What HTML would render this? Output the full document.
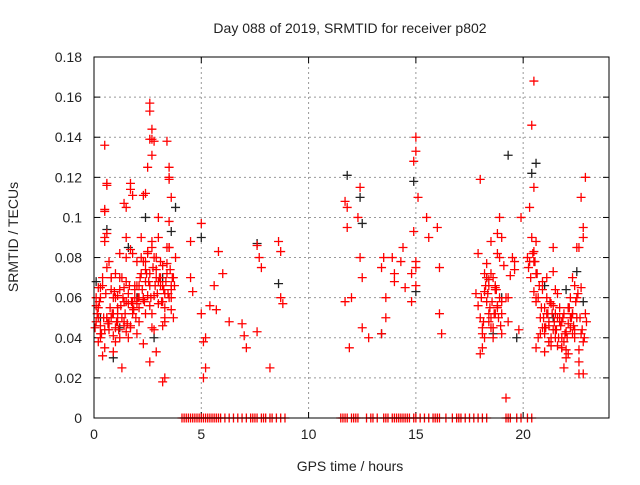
<!DOCTYPE html>
<html><head><meta charset="utf-8"><style>
body{margin:0;background:#fff;}
svg text{font-family:"Liberation Sans",sans-serif;font-size:14px;fill:#222;}
</style></head><body>
<svg id="chart" width="640" height="480" viewBox="0 0 640 480" xmlns="http://www.w3.org/2000/svg">
<rect width="640" height="480" fill="#fff"/>
<text x="350" y="33" text-anchor="middle">Day 088 of 2019, SRMTID for receiver p802</text>
<g id="grid"></g>
<g id="ticks"></g>
<g id="marks"></g>
<rect x="94" y="57" width="515" height="361" fill="none" stroke="#000" stroke-width="1"/>
<text x="350" y="471" text-anchor="middle">GPS time / hours</text>
<text transform="translate(18,237) rotate(-90)" text-anchor="middle">SRMTID / TECUs</text>
</svg>
<script>
const xTicks=[0,5,10,15,20];
const yTicks=[0,0.02,0.04,0.06,0.08,0.1,0.12,0.14,0.16,0.18];
const yTickLabels=["0","0.02","0.04","0.06","0.08","0.1","0.12","0.14","0.16","0.18"];
const redX=[0.1,0.2,0.3,0.3,0.4,0.5,0.5,0.6,0.6,0.7,0.8,0.9,1.0,1.0,1.1,1.2,1.3,1.4,1.5,1.5,1.6,1.7,1.8,1.9,2.0,2.1,2.2,2.3,2.4,2.5,2.5,2.6,2.6,2.7,2.8,2.9,3.0,3.1,3.2,3.3,3.4,3.5,3.5,3.6,3.7,3.8,0.2,0.4,0.6,0.8,1.0,1.2,1.4,1.6,1.8,2.0,2.2,2.4,2.6,2.8,3.0,3.2,3.4,3.6,0.1,0.3,0.5,0.7,0.9,1.1,1.3,1.5,1.7,1.9,2.1,2.3,2.5,2.7,2.9,3.1,3.3,3.5,3.7,0.2,0.5,0.8,1.1,1.4,1.7,2.0,2.3,2.6,2.9,3.2,3.5,0.3,0.6,0.9,1.2,1.5,1.8,2.1,2.4,2.7,3.0,3.3,3.6,2.6,2.6,2.7,2.7,2.7,2.8,3.5,3.5,3.4,3.6,0.5,0.5,0.6,1.4,1.5,1.7,1.8,2.3,2.4,3.2,3.3,
4.5,4.5,4.6,5.0,5.1,5.2,5.2,5.4,5.6,5.7,5.8,6.3,6.9,7.0,7.1,7.6,7.7,7.8,8.2,8.6,8.7,8.8,5.0,5.1,6.0,7.6,8.7,
11.7,11.8,11.8,11.9,12.0,12.3,12.4,12.5,12.5,12.8,13.4,13.5,13.6,13.6,13.9,14.0,14.3,14.4,14.5,14.8,14.9,14.9,15.0,15.0,15.1,15.5,15.6,16.0,16.1,16.1,16.2,11.7,12.4,13.4,14.0,14.8,15.0,15.0,15.0,
17.8,17.9,18.0,18.0,18.1,18.2,18.3,18.4,18.5,18.5,18.6,18.7,18.8,18.9,18.9,19.0,19.2,19.3,19.5,19.6,19.8,17.9,18.1,18.3,18.4,18.6,18.7,18.8,19.0,19.1,19.3,19.4,19.6,18.2,18.5,18.7,19.0,19.2,18.0,18.4,18.8,19.9,
20.2,20.3,20.4,20.5,20.5,20.6,20.7,20.8,20.9,21.0,21.1,21.2,21.3,21.4,21.5,21.6,21.7,21.8,21.9,22.0,22.1,22.2,22.3,22.4,22.5,22.6,22.7,22.8,22.9,20.3,20.5,20.7,20.9,21.1,21.3,21.5,21.7,21.9,22.1,22.3,22.5,22.7,20.4,20.6,20.8,21.0,21.2,21.4,21.6,21.8,22.0,22.2,22.4,22.6,22.8,20.5,20.5,20.6,20.6,20.6,21.2,21.4,21.8,22.1,22.3,22.6,22.8,21.0,21.5,22.0,22.5];
const redY=[0.048,0.055,0.046,0.065,0.031,0.088,0.104,0.092,0.117,0.044,0.05,0.06,0.045,0.072,0.055,0.04,0.025,0.058,0.043,0.08,0.062,0.114,0.055,0.066,0.078,0.048,0.072,0.06,0.052,0.083,0.125,0.066,0.139,0.052,0.061,0.074,0.09,0.066,0.058,0.05,0.077,0.12,0.06,0.066,0.07,0.08,0.038,0.066,0.05,0.064,0.038,0.07,0.048,0.057,0.082,0.042,0.09,0.068,0.056,0.044,0.057,0.046,0.072,0.054,0.056,0.042,0.035,0.078,0.052,0.061,0.07,0.09,0.045,0.064,0.066,0.059,0.061,0.088,0.07,0.078,0.062,0.098,0.05,0.05,0.09,0.07,0.048,0.065,0.084,0.057,0.037,0.028,0.033,0.066,0.085,0.06,0.05,0.033,0.082,0.068,0.058,0.06,0.074,0.045,0.1,0.048,0.064,0.157,0.153,0.144,0.139,0.131,0.138,0.119,0.125,0.138,0.11,0.136,0.103,0.116,0.107,0.105,0.117,0.111,0.111,0.112,0.018,0.02,
0.088,0.07,0.063,0.097,0.02,0.04,0.025,0.056,0.066,0.054,0.083,0.048,0.047,0.041,0.035,0.086,0.08,0.075,0.025,0.088,0.083,0.057,0.052,0.038,0.072,0.043,0.06,
0.108,0.105,0.095,0.035,0.06,0.1,0.115,0.07,0.045,0.04,0.075,0.08,0.06,0.05,0.08,0.072,0.078,0.085,0.065,0.072,0.093,0.128,0.14,0.133,0.11,0.1,0.09,0.095,0.075,0.052,0.042,0.058,0.08,0.042,0.068,0.058,0.066,0.078,
0.075,0.062,0.082,0.05,0.119,0.045,0.072,0.058,0.066,0.088,0.045,0.07,0.065,0.056,0.08,0.1,0.09,0.06,0.048,0.08,0.074,0.044,0.056,0.035,0.077,0.069,0.04,0.064,0.082,0.058,0.076,0.06,0.071,0.078,0.063,0.05,0.052,0.042,0.01,0.032,0.048,
0.092,0.1,0.08,0.105,0.146,0.168,0.115,0.072,0.06,0.05,0.045,0.033,0.07,0.048,0.04,0.056,0.044,0.062,0.05,0.035,0.025,0.043,0.055,0.06,0.042,0.066,0.05,0.028,0.042,0.09,0.12,0.078,0.063,0.04,0.068,0.052,0.036,0.064,0.048,0.038,0.055,0.07,0.085,0.11,0.09,0.058,0.042,0.055,0.046,0.073,0.05,0.035,0.03,0.045,0.04,0.085,0.095,0.078,0.083,0.088,0.035,0.06,0.038,0.085,0.048,0.032,0.052,0.022,0.022,0.045,0.04];
const extraX=[0.05,0.15,0.25,0.35,0.45,0.55,0.65,0.75,0.85,0.95,1.05,1.15,1.25,1.35,1.45,1.55,1.65,1.75,1.85,1.95,2.05,2.15,2.25,2.35,2.45,2.55,2.65,2.75,2.85,2.95,3.05,3.15,3.25,3.35,3.45,3.55,3.65,3.75,0.1,0.3,0.5,0.7,0.9,1.1,1.3,1.5,1.7,1.9,2.1,2.3,2.5,2.7,2.9,3.1,3.3,3.5,0.2,0.4,0.6,0.8,1.0,1.2,1.4,1.6,1.8,2.0,2.2,2.4,2.6,2.8,3.0,3.2,3.4,3.6,
18.05,18.15,18.25,18.35,18.45,18.55,18.65,18.75,18.85,18.95,18.1,18.3,18.5,18.7,18.9,18.2,18.4,18.6,18.8,19.0,
20.25,20.35,20.45,20.55,20.65,20.75,20.85,20.95,21.05,21.15,21.25,21.35,21.45,21.55,21.65,21.75,21.85,21.95,22.05,22.15,22.25,22.35,22.45,22.55,22.65,22.75,22.85,22.95,20.9,21.1,21.3,21.5,21.7,21.9,22.1,22.3,22.5,22.7,22.9,21.0,21.2,21.4,21.6,21.8,22.0,22.2,22.4,22.6,22.8];
const extraY=[0.045,0.052,0.058,0.042,0.05,0.062,0.047,0.055,0.052,0.063,0.048,0.044,0.056,0.06,0.052,0.047,0.066,0.058,0.054,0.05,0.06,0.07,0.064,0.058,0.072,0.068,0.06,0.075,0.066,0.062,0.07,0.058,0.064,0.068,0.062,0.074,0.07,0.066,0.06,0.04,0.044,0.048,0.041,0.052,0.05,0.058,0.046,0.06,0.055,0.078,0.082,0.085,0.08,0.07,0.055,0.085,0.065,0.07,0.075,0.07,0.06,0.064,0.046,0.04,0.052,0.066,0.08,0.078,0.072,0.08,0.068,0.076,0.085,0.06,
0.06,0.048,0.066,0.062,0.055,0.058,0.052,0.064,0.05,0.046,0.042,0.07,0.072,0.066,0.06,0.04,0.052,0.045,0.055,0.052,
0.075,0.07,0.082,0.078,0.072,0.066,0.055,0.05,0.045,0.052,0.058,0.052,0.048,0.044,0.04,0.046,0.05,0.042,0.04,0.055,0.05,0.046,0.058,0.062,0.05,0.044,0.04,0.048,0.064,0.06,0.057,0.052,0.055,0.052,0.047,0.052,0.06,0.065,0.052,0.042,0.038,0.044,0.036,0.04,0.034,0.05,0.044,0.034,0.038];
const zeroX=[4.1,4.2,4.3,4.4,4.5,4.6,4.7,4.8,4.9,5.0,5.1,5.2,5.3,5.4,5.5,5.6,5.7,5.8,5.9,6.1,6.3,6.5,6.7,6.9,7.1,7.3,7.4,7.5,7.6,7.8,7.9,8.0,8.2,8.3,8.5,8.7,8.9,11.5,11.6,11.7,11.8,12.0,12.1,12.2,12.3,12.7,12.9,13.0,13.2,13.5,13.6,13.7,13.9,14.0,14.1,14.2,14.3,14.4,14.5,14.6,14.7,14.9,15.0,15.2,15.4,15.6,15.8,15.9,16.0,16.1,16.4,16.7,16.9,17.0,17.1,17.3,17.5,17.7,17.9,18.1,18.3,19.2,19.3,19.4,19.7,19.9,20.2,20.4];
const blackX=[0.1,0.3,0.6,0.9,1.2,1.6,2.0,2.4,2.8,3.2,3.6,3.8,5.0,7.6,8.6,11.8,12.4,12.5,13.4,14.9,15.0,18.3,18.6,19.0,19.3,19.7,20.4,20.6,21.0,21.4,22.0,22.5,22.8];
const blackY=[0.068,0.05,0.094,0.03,0.045,0.085,0.06,0.1,0.04,0.07,0.093,0.105,0.09,0.087,0.067,0.121,0.11,0.097,0.042,0.118,0.063,0.07,0.042,0.06,0.131,0.04,0.122,0.127,0.066,0.05,0.064,0.073,0.058];
const L=94,R=609,T=57,B=418;
const xs=h=>L+(R-L)*h/24;
const ys=v=>B-(B-T)*v/0.18;
const NS="http://www.w3.org/2000/svg";
const grid=document.getElementById('grid'),ticks=document.getElementById('ticks'),marks=document.getElementById('marks');
function el(tag,attrs,parent){const e=document.createElementNS(NS,tag);for(const k in attrs)e.setAttribute(k,attrs[k]);parent.appendChild(e);return e;}
xTicks.forEach(t=>{const x=xs(t);
 if(t>0){const g=el('line',{x1:x,x2:x,y1:T,y2:B,stroke:'#999','stroke-dasharray':'2,3'},grid);
 
 }
 el('line',{x1:x,x2:x,y1:B,y2:B-6,stroke:'#000'},ticks);el('line',{x1:x,x2:x,y1:T,y2:T+6,stroke:'#000'},ticks);
 const tx=el('text',{x:x,y:B+21,'text-anchor':'middle'},ticks);tx.textContent=t;
 
 });
yTicks.forEach((t,i)=>{const y=ys(t);
 if(t>0&&t<0.18){const g=el('line',{x1:L,x2:R,y1:y,y2:y,stroke:'#999','stroke-dasharray':'2,3'},grid);
 
 }
 el('line',{x1:L,x2:L+6,y1:y,y2:y,stroke:'#000'},ticks);el('line',{x1:R,x2:R-6,y1:y,y2:y,stroke:'#000'},ticks);
 const tx=el('text',{x:L-12,y:y+5,'text-anchor':'end'},ticks);tx.textContent=yTickLabels[i];
 
 });
function plus(x,y,c,name){const p=el('path',{d:`M${x-4.5} ${y}h9M${x} ${y-4.5}v9`,stroke:c,'stroke-width':1.3},marks);
 
 }
blackX.forEach((h,i)=>plus(xs(h),ys(blackY[i]),'#222','black-point'));
redX.forEach((h,i)=>plus(xs(h),ys(redY[i]),'#f00','red-point'));
extraX.forEach((h,i)=>plus(xs(h),ys(extraY[i]),'#f00','red-point'));
zeroX.forEach(h=>plus(xs(h),ys(0),'#f00','zero-point'));
</script>
</body></html>
